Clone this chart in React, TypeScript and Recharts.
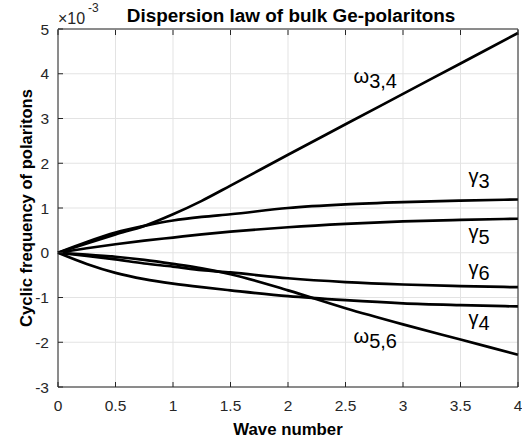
import { LineChart, Line, XAxis, YAxis, CartesianGrid, ReferenceDot } from 'recharts';

// wave number (x) and cyclic frequencies, in units of 1e-3
const waveNumber = [0, 0.25, 0.5, 0.75, 1, 1.25, 1.5, 2, 2.5, 3, 3.5, 4];
const omega34 = [0, 0.21, 0.41, 0.6, 0.86, 1.16, 1.5, 2.19, 2.87, 3.55, 4.23, 4.91];
const gamma3 = [0, 0.24, 0.45, 0.6, 0.72, 0.8, 0.86, 1.0, 1.08, 1.13, 1.165, 1.19];
const gamma5 = [0, 0.1, 0.19, 0.27, 0.34, 0.41, 0.47, 0.57, 0.645, 0.7, 0.735, 0.76];
const gamma6 = [0, -0.07, -0.15, -0.24, -0.31, -0.39, -0.44, -0.57, -0.655, -0.71, -0.745, -0.77];
const gamma4 = [0, -0.25, -0.45, -0.59, -0.69, -0.77, -0.84, -0.97, -1.06, -1.13, -1.17, -1.2];
const omega56 = [0, -0.04, -0.09, -0.16, -0.25, -0.35, -0.48, -0.84, -1.24, -1.6, -1.94, -2.28];

const xTicks = [0, 0.5, 1, 1.5, 2, 2.5, 3, 3.5, 4];
const yTicks = [-3, -2, -1, 0, 1, 2, 3, 4, 5];

const seriesKeys = ['w34', 'g3', 'g5', 'g6', 'g4', 'w56'];

// curve annotations (main symbol + subscript)
const curveLabels = [
  { x: 2.57, y: 3.79, main: 'ω', sub: '3,4' },
  { x: 3.57, y: 1.56, main: 'γ', sub: '3' },
  { x: 3.57, y: 0.31, main: 'γ', sub: '5' },
  { x: 3.57, y: -0.5, main: 'γ', sub: '6' },
  { x: 3.57, y: -1.61, main: 'γ', sub: '4' },
  { x: 2.57, y: -2.02, main: 'ω', sub: '5,6' },
];

const data = waveNumber.map((k, i) => ({
  k,
  w34: omega34[i],
  g3: gamma3[i],
  g5: gamma5[i],
  g6: gamma6[i],
  g4: gamma4[i],
  w56: omega56[i],
}));

const FONT = '"Liberation Sans", Arial, Helvetica, sans-serif';
const AXIS = '#262626';

const BottomTick = (props: any) => {
  const { x, y, payload } = props;
  const axisY = y - 13;
  return (
    <g>
      <line x1={x} x2={x} y1={axisY} y2={axisY - 5} stroke={AXIS} />
      <text x={x} y={y + 11} textAnchor="middle" fontSize={15.5} fontFamily={FONT} fill={AXIS}>
        {payload.value}
      </text>
    </g>
  );
};

const LeftTick = (props: any) => {
  const { x, y, payload } = props;
  const axisX = x + 9;
  return (
    <g>
      <line x1={axisX} x2={axisX + 5} y1={y} y2={y} stroke={AXIS} />
      <text x={x} y={y + 5.5} textAnchor="end" fontSize={15.5} fontFamily={FONT} fill={AXIS}>
        {payload.value}
      </text>
    </g>
  );
};

const TopTick = (props: any) => {
  const { x, y } = props;
  return <line x1={x} x2={x} y1={y + 1} y2={y + 6} stroke={AXIS} />;
};

const RightTick = (props: any) => {
  const { x, y } = props;
  return <line x1={x - 1} x2={x - 6} y1={y} y2={y} stroke={AXIS} />;
};

const CurveLabel = (main: string, sub: string) => (props: any) => (
  <text x={props.cx} y={props.cy} fontSize={20} fontFamily={FONT} fill="#000">
    {main}
    <tspan dy={5}>{sub}</tspan>
  </text>
);

const App = () => {
  return (
    <div style={{ position: 'absolute', left: 0, top: 0, background: '#fff' }}>
      <LineChart width={522} height={441} data={data} margin={{ top: 28, right: 3, bottom: 0, left: 0 }}>
        <CartesianGrid stroke="#e3e3e3" strokeWidth={1} />
        <XAxis
          dataKey="k"
          type="number"
          domain={[0, 4]}
          ticks={xTicks}
          height={54}
          tickSize={0}
          tickMargin={13}
          stroke={AXIS}
          tick={<BottomTick />}
          label={{
            content: (p: any) => (
              <text
                x={p.viewBox.x + p.viewBox.width / 2}
                y={p.viewBox.y + 48}
                textAnchor="middle"
                fontSize={16.8}
                fontWeight="bold"
                fontFamily={FONT}
                fill="#000"
              >
                Wave number
              </text>
            ),
          }}
        />
        <XAxis
          xAxisId="top"
          orientation="top"
          dataKey="k"
          type="number"
          domain={[0, 4]}
          ticks={xTicks}
          height={1}
          tickSize={0}
          tickMargin={0}
          stroke={AXIS}
          tick={<TopTick />}
        />
        <YAxis
          type="number"
          domain={[-3, 5]}
          ticks={yTicks}
          width={58}
          tickSize={0}
          tickMargin={9}
          stroke={AXIS}
          tick={<LeftTick />}
          label={{
            content: (p: any) => {
              const cy = p.viewBox.y + p.viewBox.height / 2;
              return (
                <g>
                  <text
                    x={32}
                    y={cy}
                    transform={`rotate(-90, 32, ${cy})`}
                    textAnchor="middle"
                    fontSize={16.6}
                    fontWeight="bold"
                    fontFamily={FONT}
                    fill="#000"
                  >
                    Cyclic frequency of polaritons
                  </text>
                  <text
                    x={291}
                    y={22}
                    textAnchor="middle"
                    fontSize={18.9}
                    fontWeight="bold"
                    fontFamily={FONT}
                    fill="#000"
                  >
                    Dispersion law of bulk Ge-polaritons
                  </text>
                  <text x={58} y={24} fontSize={16} fontFamily={FONT} fill={AXIS}>
                    ×10
                  </text>
                  <text x={88} y={12} fontSize={12} fontFamily={FONT} fill={AXIS}>
                    -3
                  </text>
                </g>
              );
            },
          }}
        />
        <YAxis
          yAxisId="right"
          orientation="right"
          type="number"
          domain={[-3, 5]}
          ticks={yTicks}
          width={1}
          tickSize={0}
          tickMargin={0}
          stroke={AXIS}
          tick={<RightTick />}
        />
        {seriesKeys.map((key) => (
          <Line
            key={key}
            type="monotone"
            dataKey={key}
            stroke="#000"
            strokeWidth={2.7}
            dot={false}
            isAnimationActive={false}
          />
        ))}
        {curveLabels.map((l, i) => (
          <ReferenceDot
            key={`lbl-${i}`}
            x={l.x}
            y={l.y}
            r={1}
            ifOverflow="visible"
            shape={CurveLabel(l.main, l.sub)}
          />
        ))}
      </LineChart>
    </div>
  );
};

export default App;
